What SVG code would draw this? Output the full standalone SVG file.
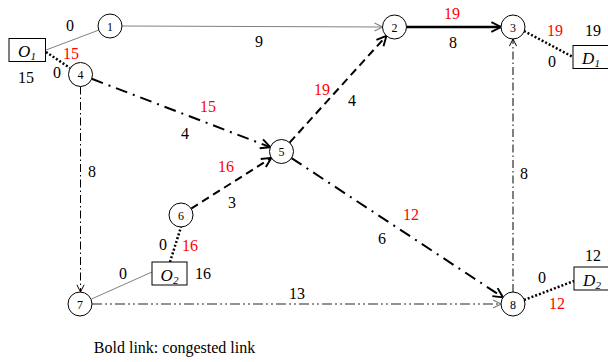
<svg xmlns="http://www.w3.org/2000/svg" width="608" height="362" viewBox="0 0 608 362">
<style>
.n{fill:#fff;stroke:#000;stroke-width:1}
.nt{font-family:"Liberation Serif",serif;font-size:12px;text-anchor:middle;fill:#000}
.t{font-family:"Liberation Serif",serif;font-size:16px;text-anchor:middle;fill:#000}
.r{fill:#ff0000}
.bt{font-family:"Liberation Serif",serif;font-size:17px;font-style:italic;text-anchor:middle;fill:#000}
.sub{font-size:11px}
.box{fill:#fff;stroke:#000;stroke-width:1}
.thin{fill:none;stroke:#808080;stroke-width:1}
.bold{fill:none;stroke:#000;stroke-width:2.5}
.dot{fill:none;stroke:#000;stroke-width:2.5;stroke-dasharray:2,2}
.dd{fill:none;stroke:#000;stroke-width:2;stroke-dasharray:8,5}
.dsd{fill:none;stroke:#000;stroke-width:2;stroke-dasharray:12,6,2,6}
.tdd{fill:none;stroke:#000;stroke-width:1;stroke-dasharray:8,3,1.5,3}
.gdd{fill:none;stroke:#707070;stroke-width:1.5;stroke-dasharray:10,3,2,3,2,3}
</style>
<defs>
<marker id="ab" viewBox="0 0 10 10" refX="9" refY="5" markerWidth="12" markerHeight="12" markerUnits="userSpaceOnUse" orient="auto">
<path d="M1,1 L9,5 L1,9" fill="none" stroke="#000" stroke-width="1.6"/>
</marker>
<marker id="at" viewBox="0 0 10 10" refX="9" refY="5" markerWidth="9" markerHeight="9" markerUnits="userSpaceOnUse" orient="auto">
<path d="M1,1 L9,5 L1,9" fill="none" stroke="#000" stroke-width="1.1"/>
</marker>
<marker id="ag" viewBox="0 0 10 10" refX="9" refY="5" markerWidth="10" markerHeight="10" markerUnits="userSpaceOnUse" orient="auto">
<path d="M1,1 L9,5 L1,9" fill="none" stroke="#808080" stroke-width="1.2"/>
</marker>
</defs>
<g id="connectors">
<line class="thin" x1="46" y1="50" x2="99" y2="30"/>
<line class="dot" x1="46" y1="52" x2="70" y2="68"/>
<line class="thin" x1="122" y1="26" x2="382.5" y2="27" marker-end="url(#ag)"/>
<line class="bold" x1="406.5" y1="27" x2="501" y2="27" marker-end="url(#ab)"/>
<line class="dot" x1="524" y1="31" x2="573" y2="57"/>
<line class="dsd" x1="91.7" y1="78.8" x2="270.3" y2="147.2" marker-end="url(#ab)"/>
<line class="tdd" x1="80.5" y1="86.5" x2="80.5" y2="292" marker-end="url(#at)"/>
<line class="dd" x1="289.6" y1="142.6" x2="386.4" y2="35.9" marker-end="url(#ab)"/>
<line class="dd" x1="191.1" y1="208.6" x2="271.4" y2="157.9" marker-end="url(#ab)"/>
<line class="dsd" x1="291.5" y1="158.1" x2="503" y2="297.4" marker-end="url(#ab)"/>
<line class="tdd" x1="513" y1="292" x2="513" y2="39" marker-end="url(#at)"/>
<line class="gdd" x1="92" y1="304" x2="501" y2="304" marker-end="url(#ag)"/>
<line class="thin" x1="152" y1="272" x2="91.5" y2="299"/>
<line class="dot" x1="170" y1="262" x2="181" y2="227"/>
<line class="dot" x1="524" y1="300" x2="574" y2="281"/>
</g>
<g id="node1"><circle class="n" cx="110" cy="26" r="12"/><text class="nt" x="110" y="30.5">1</text></g>
<g id="node2"><circle class="n" cx="394.5" cy="27" r="12"/><text class="nt" x="394.5" y="31.5">2</text></g>
<g id="node3"><circle class="n" cx="513" cy="27" r="12"/><text class="nt" x="513" y="31.5">3</text></g>
<g id="node4"><circle class="n" cx="80.5" cy="74.5" r="12"/><text class="nt" x="80.5" y="79">4</text></g>
<g id="node5"><circle class="n" cx="281.5" cy="151.5" r="12"/><text class="nt" x="281.5" y="156">5</text></g>
<g id="node6"><circle class="n" cx="181" cy="215" r="12"/><text class="nt" x="181" y="219.5">6</text></g>
<g id="node7"><circle class="n" cx="80" cy="304" r="12"/><text class="nt" x="80" y="308.5">7</text></g>
<g id="node8"><circle class="n" cx="513" cy="304" r="12"/><text class="nt" x="513" y="308.5">8</text></g>
<g id="O1"><rect class="box" x="9" y="38.5" width="36.5" height="23"/><text class="bt" x="27" y="57">O<tspan class="sub" dy="3">1</tspan></text></g>
<g id="D1"><rect class="box" x="573" y="45.5" width="37" height="23"/><text class="bt" x="591" y="64">D<tspan class="sub" dy="3">1</tspan></text></g>
<g id="O2"><rect class="box" x="152" y="262" width="35" height="23"/><text class="bt" x="169.5" y="280.5">O<tspan class="sub" dy="3">2</tspan></text></g>
<g id="D2"><rect class="box" x="574" y="267" width="37" height="23"/><text class="bt" x="592" y="285.5">D<tspan class="sub" dy="3">2</tspan></text></g>
<g id="labels">
<text class="t" x="70" y="31">0</text>
<text class="t r" x="71" y="59">15</text>
<text class="t" x="57" y="78">0</text>
<text class="t" x="26" y="83">15</text>
<text class="t" x="259" y="47">9</text>
<text class="t r" x="452" y="19">19</text>
<text class="t" x="453" y="48">8</text>
<text class="t r" x="555" y="36">19</text>
<text class="t" x="593" y="36">19</text>
<text class="t" x="552" y="67">0</text>
<text class="t r" x="208" y="112">15</text>
<text class="t" x="185" y="139">4</text>
<text class="t r" x="322" y="95">19</text>
<text class="t" x="352" y="106">4</text>
<text class="t" x="92" y="177">8</text>
<text class="t r" x="226" y="172">16</text>
<text class="t" x="232" y="208">3</text>
<text class="t" x="163" y="250">0</text>
<text class="t r" x="190" y="251">16</text>
<text class="t" x="123" y="279">0</text>
<text class="t" x="203" y="279">16</text>
<text class="t" x="297" y="299">13</text>
<text class="t r" x="411" y="220">12</text>
<text class="t" x="382" y="244">6</text>
<text class="t" x="524" y="179">8</text>
<text class="t" x="593" y="261">12</text>
<text class="t" x="542" y="283">0</text>
<text class="t r" x="557" y="309">12</text>
<text class="t" x="174.5" y="353">Bold link: congested link</text>
</g>
</svg>
